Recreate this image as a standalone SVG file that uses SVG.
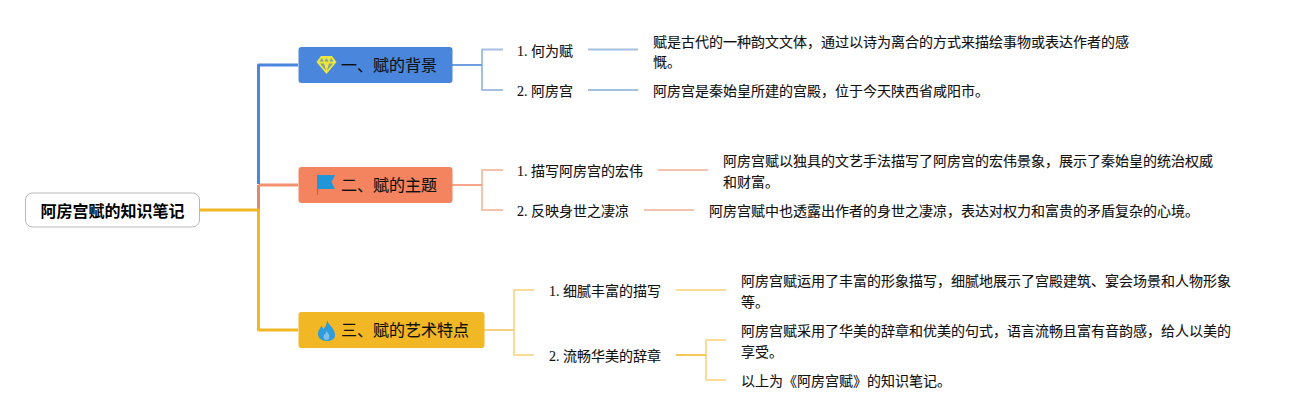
<svg xmlns="http://www.w3.org/2000/svg" width="1301" height="420" viewBox="0 0 1301 420">
<style>
text{font-family:"Liberation Serif","Noto Sans CJK SC",serif;font-size:14px;fill:#111;stroke:#111;stroke-width:.12}
.b{font-size:16px;fill:#111}
.r{font-size:16px;font-weight:bold;fill:#000;stroke:none}
.c{fill:none;stroke-linejoin:round}
.m{stroke-width:3}
.s{stroke-width:2}
.blue{stroke:#4a86dc}.sal{stroke:#f3906f}.salv{stroke:#e0896f}.yel{stroke:#f2b724}
.lblue{stroke:#a3c0e0}.lsal{stroke:#f4c3b0}.lyel{stroke:#f8dc98}
.dblue{stroke:#6f9fe0}.dsal{stroke:#f5a68a}.dyel{stroke:#f7d27e}.myel{stroke:#f5c858}
</style>
<g id="connectors">
<path class="c m salv" d="M258.500 210V185"/>
<path class="c m sal" d="M258.500 185H298"/>
<path class="c m blue" d="M258.500 184V65H298"/>
<path class="c m yel" d="M199 210H258.500V330H298"/>
<path class="c s lblue" d="M482 65V49.500H503M482 65V90H503M588 49.500H638M588 90H638"/>
<path class="c s dblue" d="M452 65H482"/>
<path class="c s lsal" d="M482 185V170H503M482 185V210H503M658 170H708M644 210H694"/>
<path class="c s dsal" d="M452 185H482"/>
<path class="c s lyel" d="M514 330V290H534M514 330V355H534M676 290H726M726 340H706V380H726"/>
<path class="c s dyel" d="M484 330H514"/>
<path class="c s myel" d="M676 355H706"/>
</g>
<g id="root"><rect x="25.500" y="193" width="174" height="34" rx="7" fill="#fff" stroke="#b8b8b8" stroke-width="1"/><text class="r" x="40.500" y="217">阿房宫赋的知识笔记</text></g>
<g id="b1"><rect x="298.500" y="47" width="154" height="36" rx="3" fill="#4a86dc"/>
<path d="M321 56h11l4.500 6-10 12-10-12z" fill="#ece63e"/>
<path d="M322 58l-2.500 3.500h4zM331 58l2.500 3.500h-4zM326.500 58l-2 3.500h4zM320 63.500h4l2 7zM333 63.500h-4l-2 7z" fill="#7f9f9a"/>
<text class="b" x="341" y="71">一、赋的背景</text></g>
<g id="b2"><rect x="298.500" y="167" width="154" height="36" rx="3" fill="#f3845f"/>
<path d="M317 175h18l-3.500 7 3.500 7h-17v6h-1z" fill="#1f96d8"/>
<text class="b" x="341" y="191">二、赋的主题</text></g>
<g id="b3"><rect x="298.500" y="312" width="186" height="36" rx="3" fill="#f2b724"/>
<path d="M327 320c1 5 8 8 8 15 0 4-3.500 6-8.500 6s-8.500-3-8.500-7c0-4 2.500-6 3.500-8 1 1 1.500 2 2 3 2-2 3.500-5 3.500-9z" fill="#2e9bdc"/>
<path d="M326.500 331c1 2 3 3 3 6 0 2-1.300 3-3 3s-3-1-3-3c0-3 2.500-3 3-6z" fill="#7dbfe6"/>
<text class="b" x="341" y="336">三、赋的艺术特点</text></g>
<g id="t1"><text x="517" y="56">1. 何为赋</text></g>
<g id="t2"><text x="517" y="96">2. 阿房宫</text></g>
<g id="t3"><text x="517" y="176">1. 描写阿房宫的宏伟</text></g>
<g id="t4"><text x="517" y="216">2. 反映身世之凄凉</text></g>
<g id="t5"><text x="549" y="296">1. 细腻丰富的描写</text></g>
<g id="t6"><text x="549" y="361">2. 流畅华美的辞章</text></g>
<g id="d1"><text x="653" y="47">赋是古代的一种韵文文体，通过以诗为离合的方式来描绘事物或表达作者的感</text><text x="653" y="67">慨。</text></g>
<g id="d2"><text x="653" y="96">阿房宫是秦始皇所建的宫殿，位于今天陕西省咸阳市。</text></g>
<g id="d3"><text x="723" y="166">阿房宫赋以独具的文艺手法描写了阿房宫的宏伟景象，展示了秦始皇的统治权威</text><text x="723" y="187">和财富。</text></g>
<g id="d4"><text x="709" y="216">阿房宫赋中也透露出作者的身世之凄凉，表达对权力和富贵的矛盾复杂的心境。</text></g>
<g id="d5"><text x="741" y="286">阿房宫赋运用了丰富的形象描写，细腻地展示了宫殿建筑、宴会场景和人物形象</text><text x="741" y="307">等。</text></g>
<g id="d6"><text x="741" y="336">阿房宫赋采用了华美的辞章和优美的句式，语言流畅且富有音韵感，给人以美的</text><text x="741" y="357">享受。</text></g>
<g id="d7"><text x="741" y="386">以上为《阿房宫赋》的知识笔记。</text></g>
</svg>
